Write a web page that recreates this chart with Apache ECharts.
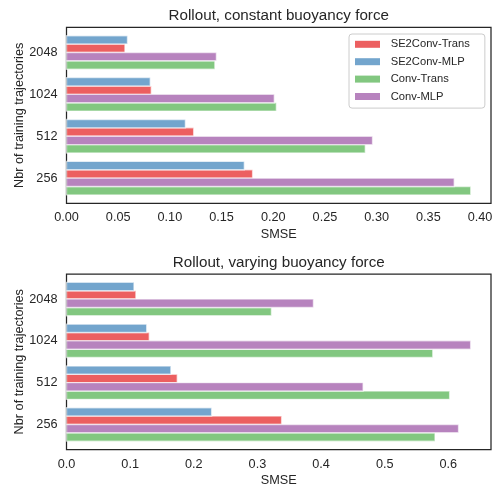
<!DOCTYPE html>
<html>
<head>
<meta charset="utf-8">
<script src="https://cdn.jsdelivr.net/npm/echarts@6/dist/echarts.min.js"></script>
<style>
  html, body { margin: 0; padding: 0; background: #ffffff; }
  #chart { width: 495px; height: 484px; }
</style>
</head>
<body>
<div id="chart"></div>
<script>
// Training-set sizes, bottom to top on the y axis
const categories = ['256', '512', '1024', '2048'];

// SMSE per model, rollout with constant buoyancy force
const constSE2ConvTrans = [0.180, 0.123, 0.082, 0.0565];
const constSE2ConvMLP   = [0.172, 0.115, 0.081, 0.059];
const constConvTrans    = [0.391, 0.289, 0.203, 0.1435];
const constConvMLP      = [0.375, 0.296, 0.201, 0.145];

// SMSE per model, rollout with varying buoyancy force
const varySE2ConvTrans = [0.338, 0.174, 0.130, 0.109];
const varySE2ConvMLP   = [0.228, 0.164, 0.126, 0.106];
const varyConvTrans    = [0.579, 0.602, 0.5755, 0.322];
const varyConvMLP      = [0.616, 0.466, 0.635, 0.388];

// x tick labels of each panel
const constTicks = [0, 0.05, 0.10, 0.15, 0.20, 0.25, 0.30, 0.35, 0.40];
const varyTicks  = [0, 0.1, 0.2, 0.3, 0.4, 0.5, 0.6];

const FONT = '"Liberation Sans", Arial, sans-serif';
const INK = '#262626';

// Model styling: colour and vertical slot inside a category group
const models = [
  { name: 'SE2Conv-Trans', color: '#ec5f60', offset: 0.1 },
  { name: 'SE2Conv-MLP',   color: '#73a5cd', offset: 0.3 },
  { name: 'Conv-Trans',    color: '#82c780', offset: -0.3 },
  { name: 'Conv-MLP',      color: '#b783be', offset: -0.1 }
];
const BAR_H = 0.2;

function barSeries(model, values, gridIdx) {
  return {
    type: 'custom',
    name: model.name,
    xAxisIndex: gridIdx,
    yAxisIndex: gridIdx,
    itemStyle: { color: model.color },
    encode: { x: 0, y: 1 },
    data: values.map((v, i) => [v, i]),
    clip: true,
    renderItem: function (params, api) {
      const v = api.value(0);
      const c = api.value(1);
      const p0 = api.coord([0, c + model.offset + BAR_H / 2]);
      const p1 = api.coord([v, c + model.offset - BAR_H / 2]);
      return {
        type: 'rect',
        shape: { x: p0[0], y: p0[1], width: p1[0] - p0[0], height: p1[1] - p0[1] },
        style: { fill: model.color, stroke: 'rgba(255,255,255,0.6)', lineWidth: 1.4 }
      };
    }
  };
}

function xAxisFor(gridIdx, max, ticks, digits) {
  return {
    type: 'value', gridIndex: gridIdx, min: 0, max: max,
    name: 'SMSE', nameLocation: 'middle', nameGap: 24.5, nameMoveOverlap: false,
    nameTextStyle: { fontFamily: FONT, fontSize: 12.7, color: INK },
    axisLine: { show: false }, axisTick: { show: false }, splitLine: { show: false },
    axisLabel: {
      customValues: ticks, margin: 8,
      fontFamily: FONT, fontSize: 12.7, color: INK,
      formatter: v => v.toFixed(digits)
    }
  };
}

function yAxisFor(gridIdx) {
  return {
    type: 'value', gridIndex: gridIdx, min: -0.6, max: 3.6,
    name: 'Nbr of training trajectories', nameLocation: 'middle', nameGap: 41, nameMoveOverlap: false,
    nameTextStyle: { fontFamily: FONT, fontSize: 12.7, color: INK },
    axisLine: { show: false }, axisTick: { show: false }, splitLine: { show: false },
    axisLabel: {
      customValues: [0, 1, 2, 3], margin: 9,
      fontFamily: FONT, fontSize: 12.7, color: INK,
      formatter: v => categories[Math.round(v)]
    }
  };
}

const chart = echarts.init(document.getElementById('chart'), null, { renderer: 'canvas' });

chart.setOption({
  animation: false,
  backgroundColor: '#ffffff',
  title: [
    { text: 'Rollout, constant buoyancy force', left: 278.75, top: 6.5, padding: 0, textAlign: 'center',
      textStyle: { fontFamily: FONT, fontSize: 15.2, fontWeight: 'normal', color: INK, lineHeight: 18 } },
    { text: 'Rollout, varying buoyancy force', left: 278.75, top: 254.3, padding: 0, textAlign: 'center',
      textStyle: { fontFamily: FONT, fontSize: 15.2, fontWeight: 'normal', color: INK, lineHeight: 18 } }
  ],
  legend: {
    orient: 'vertical', left: 349, top: 34,
    data: models.map(m => m.name),
    icon: 'rect', itemWidth: 25, itemHeight: 7, itemGap: 3.4,
    padding: [3.3, 15, 4.6, 6],
    backgroundColor: 'rgba(255,255,255,0.8)', borderColor: '#cccccc', borderWidth: 1, borderRadius: 3,
    textStyle: { fontFamily: FONT, fontSize: 11.2, color: INK, lineHeight: 14, padding: [0, 0, 0, 5.7] }
  },
  grid: [
    { left: 66.5, top: 27.3, width: 424.5, height: 176, show: true, outerBoundsMode: 'none',
      borderColor: INK, borderWidth: 1.25, backgroundColor: 'transparent' },
    { left: 66.5, top: 274, width: 424.5, height: 175.5, show: true, outerBoundsMode: 'none',
      borderColor: INK, borderWidth: 1.25, backgroundColor: 'transparent' }
  ],
  xAxis: [
    xAxisFor(0, 0.4106, constTicks, 2),
    xAxisFor(1, 0.667, varyTicks, 1)
  ],
  yAxis: [yAxisFor(0), yAxisFor(1)],
  series: [
    barSeries(models[0], constSE2ConvTrans, 0),
    barSeries(models[1], constSE2ConvMLP, 0),
    barSeries(models[2], constConvTrans, 0),
    barSeries(models[3], constConvMLP, 0),
    barSeries(models[0], varySE2ConvTrans, 1),
    barSeries(models[1], varySE2ConvMLP, 1),
    barSeries(models[2], varyConvTrans, 1),
    barSeries(models[3], varyConvMLP, 1)
  ]
});
</script>
</body>
</html>
